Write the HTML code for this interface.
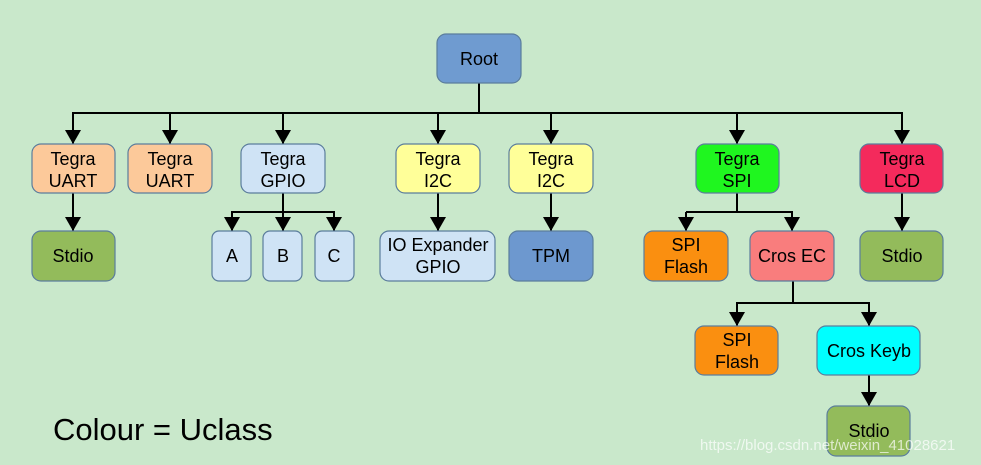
<!DOCTYPE html>
<html><head><meta charset="utf-8"><style>
html,body{margin:0;padding:0;background:#c9e8cb;}
svg{display:block;font-family:"Liberation Sans",sans-serif;}
</style></head><body>
<svg width="981" height="465" viewBox="0 0 981 465" xmlns="http://www.w3.org/2000/svg">
<defs>
<marker id="a" markerWidth="16" markerHeight="14" refX="8" refY="14" orient="0" markerUnits="userSpaceOnUse">
<polygon points="0,0 16,0 8,14" fill="#000"/></marker>
</defs>
<rect width="981" height="465" fill="#c9e8cb"/>
<g stroke="#000" stroke-width="2" fill="none">
<line x1="479" y1="83" x2="479" y2="113"/>
<line x1="72" y1="113" x2="903" y2="113"/>
<line x1="73" y1="113" x2="73" y2="144" marker-end="url(#a)"/>
<line x1="170" y1="113" x2="170" y2="144" marker-end="url(#a)"/>
<line x1="283" y1="113" x2="283" y2="144" marker-end="url(#a)"/>
<line x1="438" y1="113" x2="438" y2="144" marker-end="url(#a)"/>
<line x1="551" y1="113" x2="551" y2="144" marker-end="url(#a)"/>
<line x1="737" y1="113" x2="737" y2="144" marker-end="url(#a)"/>
<line x1="902" y1="113" x2="902" y2="144" marker-end="url(#a)"/>
<line x1="73" y1="193" x2="73" y2="231" marker-end="url(#a)"/>
<line x1="283" y1="193" x2="283" y2="212"/>
<line x1="231" y1="212" x2="335" y2="212"/>
<line x1="232" y1="212" x2="232" y2="231" marker-end="url(#a)"/>
<line x1="283" y1="212" x2="283" y2="231" marker-end="url(#a)"/>
<line x1="334" y1="212" x2="334" y2="231" marker-end="url(#a)"/>
<line x1="438" y1="193" x2="438" y2="231" marker-end="url(#a)"/>
<line x1="551" y1="193" x2="551" y2="231" marker-end="url(#a)"/>
<line x1="737" y1="193" x2="737" y2="212"/>
<line x1="686" y1="212" x2="793" y2="212"/>
<line x1="686" y1="212" x2="686" y2="231" marker-end="url(#a)"/>
<line x1="792" y1="212" x2="792" y2="231" marker-end="url(#a)"/>
<line x1="902" y1="193" x2="902" y2="231" marker-end="url(#a)"/>
<line x1="793" y1="281" x2="793" y2="303"/>
<line x1="736" y1="303" x2="870" y2="303"/>
<line x1="737" y1="303" x2="737" y2="326" marker-end="url(#a)"/>
<line x1="869" y1="303" x2="869" y2="326" marker-end="url(#a)"/>
<line x1="869" y1="375" x2="869" y2="406" marker-end="url(#a)"/>
</g>
<g stroke="#5b7d9c" stroke-width="1.2">
<rect x="437" y="34" width="84" height="49" rx="9" fill="#6f9bd0"/>
<rect x="32" y="144" width="83" height="49" rx="9" fill="#fcc99a"/>
<rect x="128" y="144" width="84" height="49" rx="9" fill="#fcc99a"/>
<rect x="241" y="144" width="84" height="49" rx="9" fill="#cfe3f5"/>
<rect x="396" y="144" width="84" height="49" rx="9" fill="#ffff99"/>
<rect x="509" y="144" width="84" height="49" rx="9" fill="#ffff99"/>
<rect x="696" y="144" width="83" height="49" rx="9" fill="#1ff61f"/>
<rect x="860" y="144" width="83" height="49" rx="9" fill="#f42a5c"/>
<rect x="32" y="231" width="83" height="50" rx="9" fill="#93bb5b"/>
<rect x="212" y="231" width="39" height="50" rx="7" fill="#cfe3f5"/>
<rect x="263" y="231" width="39" height="50" rx="7" fill="#cfe3f5"/>
<rect x="315" y="231" width="39" height="50" rx="7" fill="#cfe3f5"/>
<rect x="380" y="231" width="115" height="50" rx="9" fill="#cfe3f5"/>
<rect x="509" y="231" width="84" height="50" rx="9" fill="#6d98cf"/>
<rect x="644" y="231" width="84" height="50" rx="9" fill="#fa8f10"/>
<rect x="750" y="231" width="84" height="50" rx="9" fill="#f97d7d"/>
<rect x="860" y="231" width="83" height="50" rx="9" fill="#93bb5b"/>
<rect x="695" y="326" width="83" height="49" rx="9" fill="#fa8f10"/>
<rect x="817" y="326" width="103" height="49" rx="9" fill="#00ffff"/>
<rect x="827" y="406" width="83" height="50" rx="9" fill="#93bb5b"/>
</g>
<g font-size="18" fill="#000" text-anchor="middle">
<text x="479" y="65">Root</text>
<text x="73" y="165">Tegra</text><text x="73" y="187">UART</text>
<text x="170" y="165">Tegra</text><text x="170" y="187">UART</text>
<text x="283" y="165">Tegra</text><text x="283" y="187">GPIO</text>
<text x="438" y="165">Tegra</text><text x="438" y="187">I2C</text>
<text x="551" y="165">Tegra</text><text x="551" y="187">I2C</text>
<text x="737" y="165">Tegra</text><text x="737" y="187">SPI</text>
<text x="902" y="165">Tegra</text><text x="902" y="187">LCD</text>
<text x="73" y="262">Stdio</text>
<text x="232" y="262">A</text><text x="283" y="262">B</text><text x="334" y="262">C</text>
<text x="438" y="251">IO Expander</text><text x="438" y="273">GPIO</text>
<text x="551" y="262">TPM</text>
<text x="686" y="251">SPI</text><text x="686" y="273">Flash</text>
<text x="792" y="262">Cros EC</text>
<text x="902" y="262">Stdio</text>
<text x="737" y="346">SPI</text><text x="737" y="368">Flash</text>
<text x="869" y="357">Cros Keyb</text>
<text x="869" y="437">Stdio</text>
</g>
<text x="53" y="440" font-size="31" fill="#000">Colour = Uclass</text>
<text x="700" y="450" font-size="15" fill="#ffffff" fill-opacity="0.7">https://blog.csdn.net/weixin_41028621</text>
</svg>
</body></html>
